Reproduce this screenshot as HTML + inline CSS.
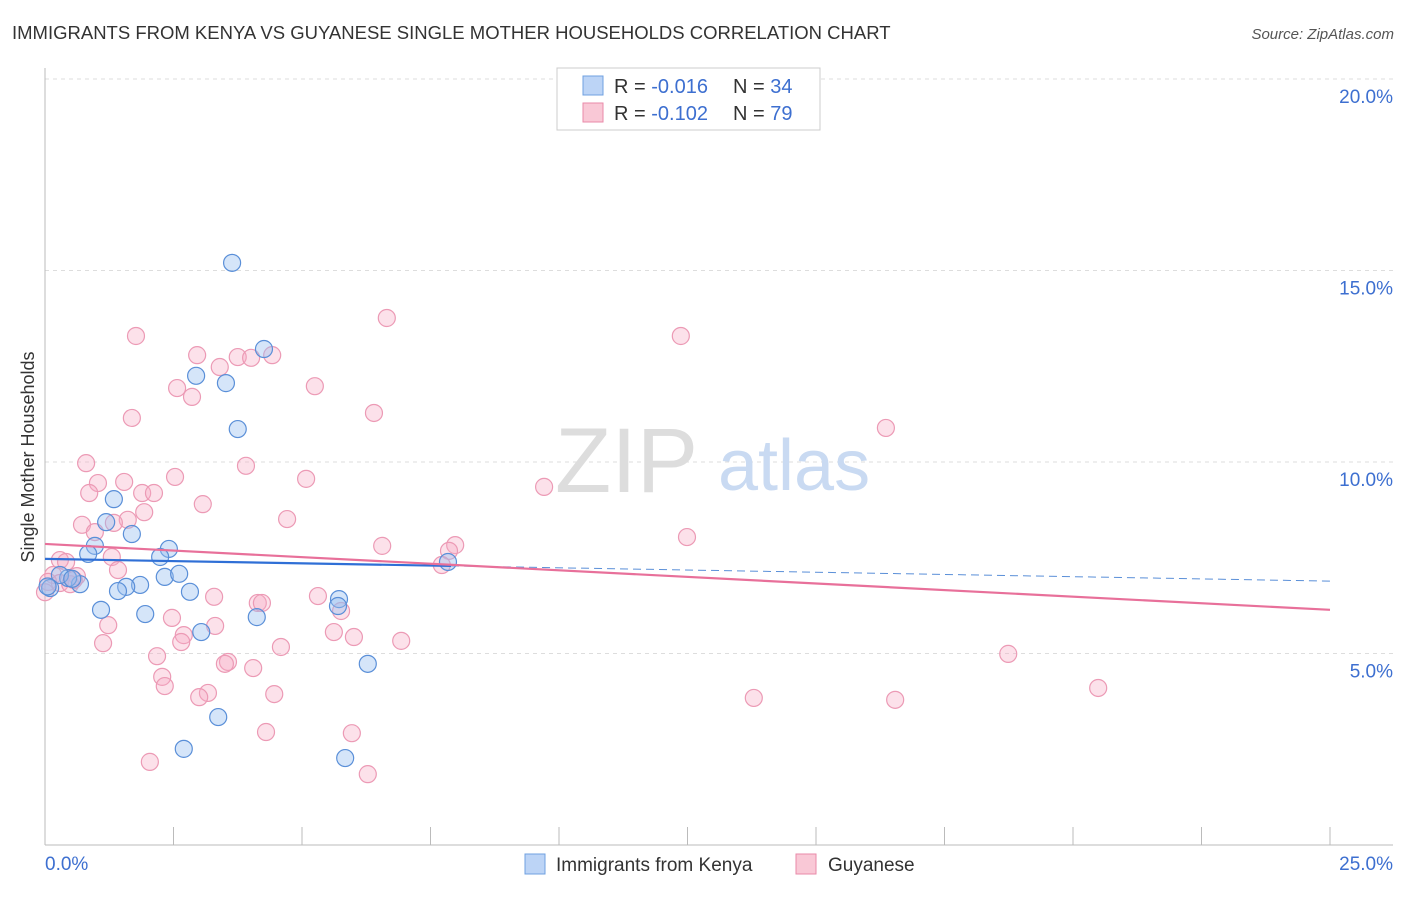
<!DOCTYPE html>
<html><head><meta charset="utf-8">
<style>
body{margin:0;background:#fff;font-family:"Liberation Sans",sans-serif;}
svg text{font-family:"Liberation Sans",sans-serif;}
</style></head>
<body>
<svg width="1406" height="892" xmlns="http://www.w3.org/2000/svg">
<text x="12" y="39" font-size="18.5" fill="#333">IMMIGRANTS FROM KENYA VS GUYANESE SINGLE MOTHER HOUSEHOLDS CORRELATION CHART</text>
<text x="1394" y="39" font-size="15" fill="#555" font-style="italic" text-anchor="end">Source: ZipAtlas.com</text>
<g id="grid"></g>
<g>
<text x="555" y="492" font-size="92" fill="#ddd" font-family="Liberation Serif">ZIP</text>
<text x="718" y="490" font-size="72" fill="#c9daf2">atlas</text>
</g>
<g id="axes"></g>
<g id="points"></g>
<g id="trends"></g>
<text x="0" y="0" transform="translate(34,457) rotate(-90)" font-size="18" fill="#333" text-anchor="middle">Single Mother Households</text>
<g>
<rect x="557" y="68" width="263" height="62" fill="#fff" stroke="#ccc"/>
<rect x="583" y="76" width="20" height="19" fill="#bcd4f6" stroke="#6fa0e0"/>
<rect x="583" y="103" width="20" height="19" fill="#f9c8d6" stroke="#e98aa8"/>
<text x="614" y="93" font-size="20" fill="#333">R = <tspan fill="#3d6fd0">-0.016</tspan></text>
<text x="733" y="93" font-size="20" fill="#333">N = <tspan fill="#3d6fd0">34</tspan></text>
<text x="614" y="120" font-size="20" fill="#333">R = <tspan fill="#3d6fd0">-0.102</tspan></text>
<text x="733" y="120" font-size="20" fill="#333">N = <tspan fill="#3d6fd0">79</tspan></text>
</g>
<g>
<rect x="525" y="854" width="20" height="20" fill="#bcd4f6" stroke="#6fa0e0"/>
<text x="556" y="871" font-size="19" fill="#333">Immigrants from Kenya</text>
<rect x="796" y="854" width="20" height="20" fill="#f9c8d6" stroke="#e98aa8"/>
<text x="828" y="871" font-size="19" fill="#333">Guyanese</text>
</g>
</svg>
<script>
const xTicks=[0,2.5,5,7.5,10,12.5,15,17.5,20,22.5,25];
const yTicks=[5,10,15,20];
const yTickLabels=["5.0%","10.0%","15.0%","20.0%"];
const xEndLabels=["0.0%","25.0%"];
const kenyaX=[3.64,4.26,2.94,3.52,3.75,1.34,1.19,1.69,0.97,0.84,2.41,2.24,2.33,2.61,1.85,1.58,1.42,2.82,0.68,0.45,0.29,0.10,0.05,1.09,1.95,4.12,5.72,5.70,3.04,6.28,3.37,2.70,5.84,7.84,0.53];
const kenyaY=[15.2,12.95,12.25,12.06,10.86,9.03,8.43,8.12,7.81,7.60,7.73,7.52,7.00,7.08,6.79,6.74,6.63,6.61,6.81,6.97,7.05,6.71,6.75,6.14,6.03,5.95,6.42,6.24,5.56,4.73,3.34,2.51,2.27,7.39,6.95];
const guyX=[1.77,2.96,3.75,4.01,4.42,3.40,6.65,12.37,2.57,2.86,5.25,1.69,6.40,16.36,0.80,3.91,2.53,1.54,5.08,1.03,1.89,2.12,0.86,9.71,3.07,1.93,1.61,4.71,0.72,1.34,0.97,12.49,6.56,7.98,7.86,7.72,1.30,0.29,0.41,1.42,0.62,0.16,0.06,0.29,0.49,0.56,3.29,4.14,4.22,5.31,5.76,2.47,1.23,3.31,5.62,2.70,6.01,6.93,1.13,2.65,4.59,2.18,3.56,3.50,4.05,2.28,2.33,3.17,3.00,4.46,13.79,16.54,18.74,20.49,4.30,5.97,2.04,6.28,0.0];
const guyY=[13.29,12.79,12.74,12.72,12.79,12.48,13.76,13.29,11.93,11.70,11.98,11.15,11.28,10.89,9.97,9.90,9.61,9.48,9.56,9.45,9.19,9.19,9.19,9.35,8.90,8.69,8.49,8.51,8.36,8.41,8.17,8.04,7.81,7.83,7.68,7.31,7.52,7.44,7.39,7.18,7.02,7.05,6.87,6.84,6.81,6.92,6.48,6.32,6.32,6.50,6.11,5.93,5.74,5.72,5.56,5.48,5.43,5.33,5.27,5.30,5.17,4.93,4.78,4.73,4.62,4.39,4.15,3.97,3.86,3.94,3.84,3.79,4.99,4.10,2.95,2.92,2.17,1.85,6.6];
const kenyaTrend=[7.47,6.89];
const guyTrend=[7.86,6.14];
const kenyaSolidEnd=7.9;

const NS="http://www.w3.org/2000/svg";
const X0=45,X1=1330,Y0=845,PPY=38.3;
const sx=v=>X0+(X1-X0)*v/25;
const sy=v=>Y0-v*PPY;
function mk(t,a,p){const e=document.createElementNS(NS,t);for(const k in a)e.setAttribute(k,a[k]);p.appendChild(e);return e;}
const grid=document.getElementById('grid'),axes=document.getElementById('axes'),pts=document.getElementById('points'),tr=document.getElementById('trends');
yTicks.forEach((t,i)=>{
 const l=mk('line',{x1:X0,x2:1393,y1:sy(t),y2:sy(t),stroke:'#ddd','stroke-dasharray':'4,4'},grid);
 
 
 const tx=mk('text',{x:1393,y:sy(t)+24,'font-size':19,fill:'#3d6fd0','text-anchor':'end'},axes);
 tx.textContent=yTickLabels[i];
 
 
});
const al=mk('line',{x1:X0,x2:X0,y1:68,y2:Y0,stroke:'#bbb'},axes);


const bl=mk('line',{x1:X0,x2:1393,y1:Y0,y2:Y0,stroke:'#bbb'},axes);


xTicks.forEach(t=>{
 const l=mk('line',{x1:sx(t),x2:sx(t),y1:Y0,y2:Y0-18,stroke:'#bbb'},axes);
 
 
});
const xl0=mk('text',{x:45,y:870,'font-size':19,fill:'#3d6fd0'},axes);xl0.textContent=xEndLabels[0];


const xl1=mk('text',{x:1393,y:870,'font-size':19,fill:'#3d6fd0','text-anchor':'end'},axes);xl1.textContent=xEndLabels[1];



guyX.forEach((x,i)=>{
 const c=mk('circle',{cx:sx(x),cy:sy(guyY[i]),r:8.5,fill:'rgba(245,170,195,0.35)',stroke:'#ec9ab5','stroke-width':1.2},pts);
 
 
});
kenyaX.forEach((x,i)=>{
 const c=mk('circle',{cx:sx(x),cy:sy(kenyaY[i]),r:8.5,fill:'rgba(150,190,240,0.4)',stroke:'#5a8fd8','stroke-width':1.2},pts);
 
 
});
const ky=x=>kenyaTrend[0]+(kenyaTrend[1]-kenyaTrend[0])*x/25;
const k1=mk('line',{x1:sx(0),y1:sy(kenyaTrend[0]),x2:sx(kenyaSolidEnd),y2:sy(ky(kenyaSolidEnd)),stroke:'#2f6fd6','stroke-width':2.2},tr);


const k2=mk('line',{x1:sx(kenyaSolidEnd),y1:sy(ky(kenyaSolidEnd)),x2:sx(25),y2:sy(kenyaTrend[1]),stroke:'#5a8fd8','stroke-width':1,'stroke-dasharray':'8,5'},tr);


const g1=mk('line',{x1:sx(0),y1:sy(guyTrend[0]),x2:sx(25),y2:sy(guyTrend[1]),stroke:'#e8709a','stroke-width':2.2},tr);


</script>
</body></html>
